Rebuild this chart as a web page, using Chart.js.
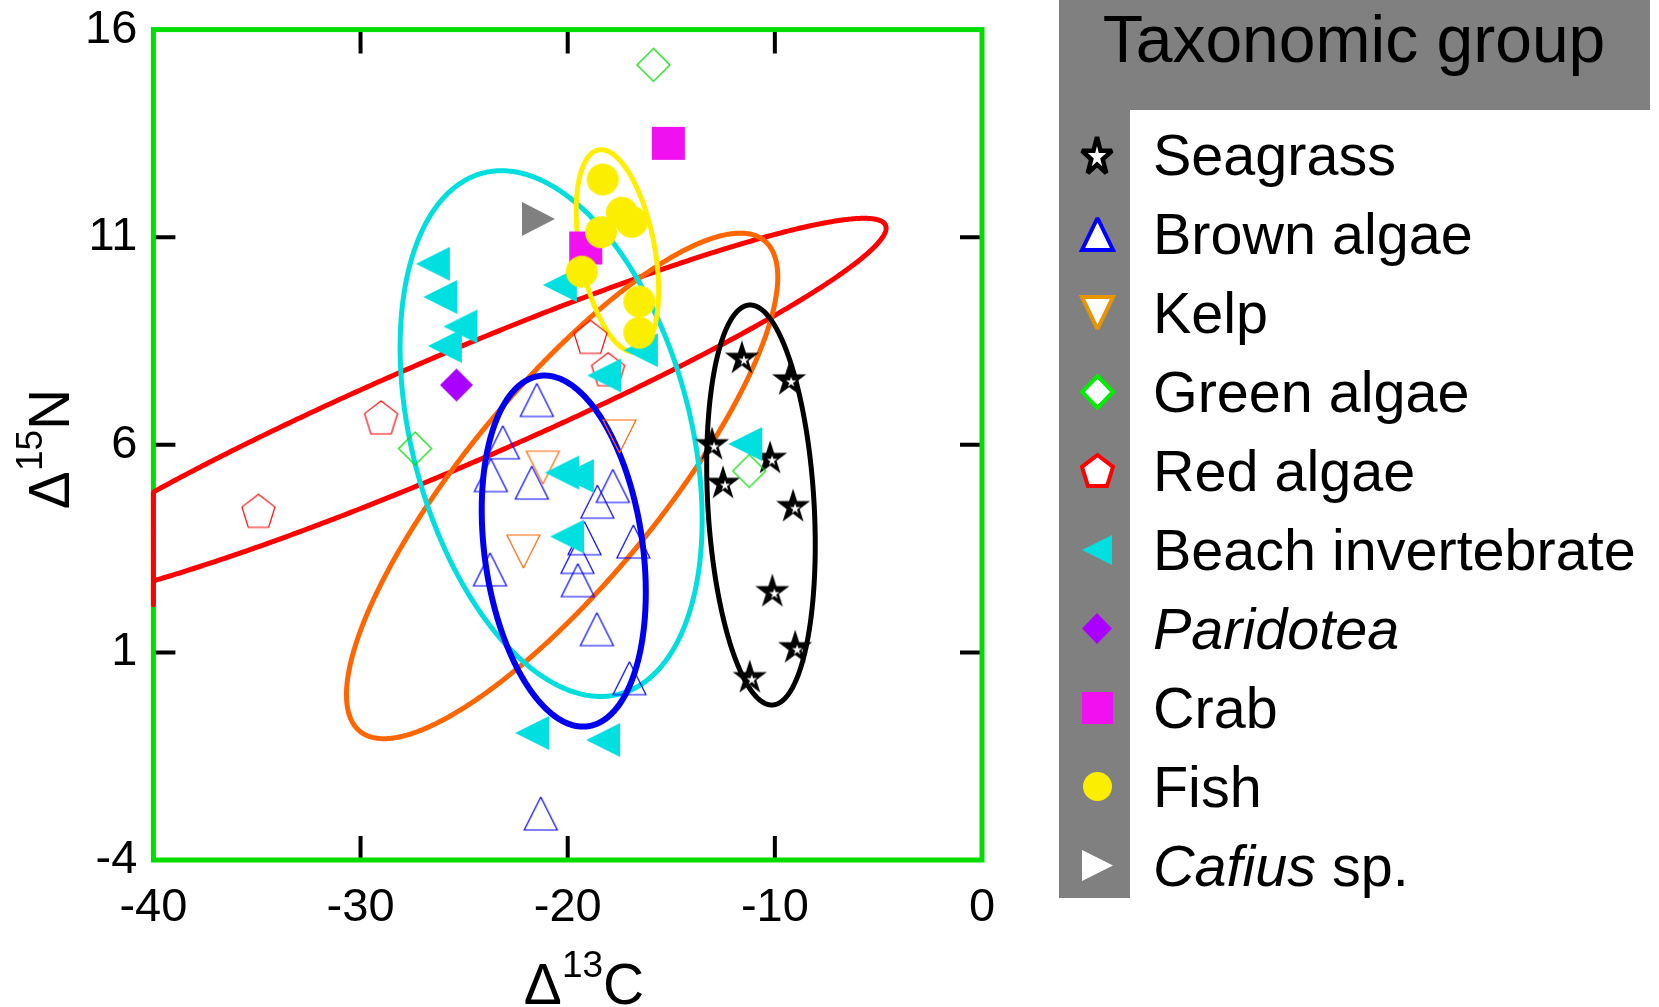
<!DOCTYPE html>
<html>
<head>
<meta charset="utf-8">
<script src="https://cdn.jsdelivr.net/npm/chart.js@4"></script>
<style>
  html, body { margin: 0; padding: 0; background: #fff; }
</style>
</head>
<body>
<canvas id="sia" width="1659" height="1007"></canvas>
<script>
const FONT = "'Liberation Sans', Arial, sans-serif";

// axis ticks
const xTicks = [-40, -30, -20, -10, 0];
const yTicks = [-4, 1, 6, 11, 16];

// groups (legend order)
const groups = ['Seagrass', 'Brown algae', 'Kelp', 'Green algae', 'Red algae',
  'Beach invertebrate', 'Paridotea', 'Crab', 'Fish', 'Cafius sp.'];
const italicPart = { 'Paridotea': 'Paridotea', 'Cafius sp.': 'Cafius' };
const legendTitle = 'Taxonomic group';

// delta 13C / delta 15N values
const seagrassX = [-11.59, -9.31, -13.03, -10.23, -12.50, -9.12, -10.12, -9.02, -11.21];
const seagrassY = [8.12, 7.60, 6.04, 5.71, 5.11, 4.55, 2.50, 1.15, 0.43];
const brownX = [-21.49, -23.13, -23.71, -21.73, -17.82, -18.57, -16.83, -19.19, -19.53, -19.51, -23.75, -18.59, -17.02, -21.30];
const brownY = [7.08, 6.06, 5.27, 5.09, 5.01, 4.63, 3.67, 3.75, 3.30, 2.74, 3.00, 1.56, 0.38, -2.88];
const kelpX = [-17.50, -21.20, -22.14];
const kelpY = [6.20, 5.45, 3.43];
const greenX = [-15.86, -27.37, -11.24];
const greenY = [15.15, 5.91, 5.37];
const redX = [-29.01, -34.93, -18.90, -18.05];
const redY = [6.66, 4.41, 8.60, 7.82];
const beachX = [-26.51, -26.15, -25.18, -25.93, -20.38, -16.47, -18.24, -20.28, -19.56, -20.03, -21.72, -18.29, -11.43];
const beachY = [10.36, 9.56, 8.85, 8.38, 9.85, 8.28, 7.67, 5.33, 5.25, 3.79, -0.94, -1.11, 6.02];
const paridoteaX = [-25.37];
const paridoteaY = [7.44];
const crabX = [-15.14, -19.13];
const crabY = [13.26, 10.74];
const fishX = [-18.31, -17.39, -16.91, -18.39, -19.32, -16.54, -16.54];
const fishY = [12.39, 11.59, 11.37, 11.12, 10.17, 9.45, 8.70];
const cafiusX = [-21.41];
const cafiusY = [11.44];

// ellipses: centre x, centre y, half-diameter to x-extreme (dx, dy), half vertical chord (dx, dy)
const seagrassEllipse = [-10.67, 4.55, 2.62, -0.96, 0, 4.72];
const brownEllipse = [-20.19, 3.44, 3.96, -0.99, 0, 4.11];
const kelpEllipse = [-20.27, 5.01, 10.41, 5.03, 0, 3.43];
const redEllipse = [-25.68, 6.80, 21.05, 4.42, 0, 1.46];
const beachEllipse = [-20.80, 6.27, 7.29, -2.08, 0, 5.98];
const fishEllipse = [-17.60, 10.67, 1.99, -0.96, 0, 2.24];

function pts(xs, ys) {
  return xs.map((v, i) => ({ x: v, y: ys[i] }));
}

function starPath(g, w, h, ox, oy) {
  for (let i = 0; i < 10; i++) {
    const a = -Math.PI / 2 + i * Math.PI / 5;
    const r = i % 2 ? 0.382 : 1;
    const px = ox + (r * Math.cos(a) + 0.951) / 1.902 * w;
    const py = oy + (r * Math.sin(a) + 1) / 1.809 * h;
    i ? g.lineTo(px, py) : g.moveTo(px, py);
  }
  g.closePath();
}

// marker images
function marker(shape, w, h, fill, stroke, lw) {
  const pad = Math.ceil(lw || 0) + 2;
  const c = document.createElement('canvas');
  c.width = w + pad * 2;
  c.height = h + pad * 2;
  const g = c.getContext('2d');
  g.translate(pad, pad);
  g.beginPath();
  const cx = w / 2, cy = h / 2;
  if (shape === 'up') { g.moveTo(cx, 0); g.lineTo(w, h); g.lineTo(0, h); }
  else if (shape === 'down') { g.moveTo(0, 0); g.lineTo(w, 0); g.lineTo(cx, h); }
  else if (shape === 'left') { g.moveTo(0, cy); g.lineTo(w, 0); g.lineTo(w, h); }
  else if (shape === 'right') { g.moveTo(0, 0); g.lineTo(w, cy); g.lineTo(0, h); }
  else if (shape === 'diamond') { g.moveTo(cx, 0); g.lineTo(w, cy); g.lineTo(cx, h); g.lineTo(0, cy); }
  else if (shape === 'square') { g.rect(0, 0, w, h); }
  else if (shape === 'circle') { g.ellipse(cx, cy, w / 2, h / 2, 0, 0, Math.PI * 2); }
  else if (shape === 'star') { starPath(g, w, h, 0, 0); }
  else {
    for (let i = 0; i < 5; i++) {
      const a = -Math.PI / 2 + i * Math.PI * 2 / 5;
      const px = (Math.cos(a) + 0.951) / 1.902 * w;
      const py = (Math.sin(a) + 1) / 1.809 * h;
      i ? g.lineTo(px, py) : g.moveTo(px, py);
    }
  }
  g.closePath();
  if (fill) { g.fillStyle = fill; g.fill(); }
  if (stroke) {
    g.lineJoin = 'miter';
    g.miterLimit = 2;
    g.strokeStyle = stroke;
    g.lineWidth = lw;
    g.stroke();
  }
  return c;
}

// solid black star with a small white core, as in the plot
function seagrassStar(w, h) {
  const c = marker('star', w, h, '#000');
  const g = c.getContext('2d');
  const pad = 2, k = 0.3;
  const ccx = pad + w / 2, ccy = pad + h / 1.809;
  g.beginPath();
  starPath(g, w * k, h * k, ccx - w * k / 2, ccy - h * k / 1.809);
  g.fillStyle = '#fff';
  g.fill();
  return c;
}

const plotMarkers = [
  seagrassStar(34, 33),
  marker('up', 33, 33, null, '#0000ff', 1.2),
  marker('down', 33, 33, null, '#ff6600', 1.2),
  marker('diamond', 33, 33, null, '#00dd00', 1.2),
  marker('pentagon', 33, 33, null, '#ff0000', 1.2),
  marker('left', 34, 34, '#00e0e0'),
  marker('diamond', 33, 33, '#aa00ff'),
  marker('square', 33, 33, '#f010f0'),
  marker('circle', 32, 32, '#fbee00'),
  marker('right', 33, 34, '#808080')
];
const legendMarkers = [
  marker('star', 30, 36, '#fff', '#000', 4.5),
  marker('up', 31, 32, '#fff', '#0000ff', 4),
  marker('down', 31, 32, '#fff', '#e69500', 4),
  marker('diamond', 31, 32, '#fff', '#00ee00', 4),
  marker('pentagon', 31, 31, '#fff', '#ff0000', 4),
  marker('left', 30, 30, '#00e0e0'),
  marker('diamond', 30, 31, '#aa00ff'),
  marker('square', 31, 32, '#f010f0'),
  marker('circle', 29, 29, '#fbee00'),
  marker('right', 31, 31, '#ffffff')
];

const seriesData = [
  pts(seagrassX, seagrassY), pts(brownX, brownY), pts(kelpX, kelpY), pts(greenX, greenY),
  pts(redX, redY), pts(beachX, beachY), pts(paridoteaX, paridoteaY), pts(crabX, crabY),
  pts(fishX, fishY), pts(cafiusX, cafiusY)
];
// higher = drawn earlier (underneath)
const drawOrder = [10, 9, 8, 7, 6, 3, 5, 4, 1, 2];

const ellipses = [
  { p: redEllipse, color: '#ff0000', width: 5 },
  { p: kelpEllipse, color: '#ff6600', width: 5 },
  { p: beachEllipse, color: '#00dede', width: 5 },
  { p: brownEllipse, color: '#0000ee', width: 6 },
  { p: seagrassEllipse, color: '#000000', width: 5 },
  { p: fishEllipse, color: '#ffee00', width: 5 }
];

const frameAndEllipses = {
  id: 'frameAndEllipses',
  beforeDatasetsDraw(chart) {
    const { ctx, chartArea: a, scales: { x, y } } = chart;
    ctx.save();
    // inward tick marks on all four sides
    ctx.strokeStyle = '#000';
    ctx.lineWidth = 4;
    ctx.beginPath();
    xTicks.slice(1, -1).forEach(v => {
      const px = x.getPixelForValue(v);
      ctx.moveTo(px, a.top); ctx.lineTo(px, a.top + 24);
      ctx.moveTo(px, a.bottom); ctx.lineTo(px, a.bottom - 24);
    });
    yTicks.slice(1, -1).forEach(v => {
      const py = y.getPixelForValue(v);
      ctx.moveTo(a.left, py); ctx.lineTo(a.left + 22, py);
      ctx.moveTo(a.right, py); ctx.lineTo(a.right - 22, py);
    });
    ctx.stroke();
    ctx.strokeStyle = '#00dd00';
    ctx.lineWidth = 5;
    ctx.strokeRect(a.left, a.top, a.right - a.left, a.bottom - a.top);

    // ellipses, clamped to the axes range
    ellipses.forEach(e => {
      const [cx, cy, ux, uy, vx, vy] = e.p;
      ctx.beginPath();
      for (let k = 0; k <= 720; k++) {
        const t = k * Math.PI / 360;
        let dx = cx + ux * Math.cos(t) + vx * Math.sin(t);
        let dy = cy + uy * Math.cos(t) + vy * Math.sin(t);
        dx = Math.min(Math.max(dx, x.min), x.max);
        dy = Math.min(Math.max(dy, y.min), y.max);
        const px = x.getPixelForValue(dx), py = y.getPixelForValue(dy);
        k ? ctx.lineTo(px, py) : ctx.moveTo(px, py);
      }
      ctx.closePath();
      ctx.strokeStyle = e.color;
      ctx.lineWidth = e.width;
      ctx.lineJoin = 'round';
      ctx.stroke();
    });
    ctx.restore();
  }
};

function supText(ctx, main1, sup, main2, big, small, rise) {
  ctx.font = big + 'px ' + FONT;
  const w1 = ctx.measureText(main1).width, w3 = ctx.measureText(main2).width;
  ctx.font = small + 'px ' + FONT;
  const w2 = ctx.measureText(sup).width;
  let x0 = -(w1 + w2 + w3) / 2;
  ctx.textAlign = 'left';
  ctx.textBaseline = 'alphabetic';
  ctx.fillStyle = '#000';
  ctx.font = big + 'px ' + FONT;
  ctx.fillText(main1, x0, 0);
  ctx.font = small + 'px ' + FONT;
  ctx.fillText(sup, x0 + w1, -rise);
  ctx.font = big + 'px ' + FONT;
  ctx.fillText(main2, x0 + w1 + w2, 0);
}

const titlesAndLegend = {
  id: 'titlesAndLegend',
  afterDraw(chart) {
    const ctx = chart.ctx;
    ctx.save();
    // axis titles
    ctx.save();
    ctx.translate(584, 1004);
    supText(ctx, '\u0394', '13', 'C', 57, 37, 27);
    ctx.restore();
    ctx.save();
    ctx.translate(68.5, 449);
    ctx.rotate(-Math.PI / 2);
    supText(ctx, '\u0394', '15', 'N', 57, 37, 27);
    ctx.restore();

    // legend panel
    ctx.fillStyle = '#808080';
    ctx.fillRect(1059, 0, 591, 110);
    ctx.fillRect(1059, 0, 71, 898);
    ctx.fillStyle = '#000';
    ctx.textAlign = 'center';
    ctx.textBaseline = 'alphabetic';
    ctx.font = '66px ' + FONT;
    ctx.fillText(legendTitle, 1354, 62);
    ctx.textAlign = 'left';
    groups.forEach((name, i) => {
      const cy = 154.5 + i * 79;
      const m = legendMarkers[i];
      ctx.drawImage(m, Math.round(1097 - m.width / 2), Math.round(cy - m.height / 2));
      const it = italicPart[name] || '';
      let tx = 1153;
      if (it) {
        ctx.font = 'italic 57.5px ' + FONT;
        ctx.fillText(it, tx, cy + 20.5);
        tx += ctx.measureText(it).width;
      }
      const rest = name.slice(it.length);
      if (rest) {
        ctx.font = '57.5px ' + FONT;
        ctx.fillText(rest, tx, cy + 20.5);
      }
    });
    ctx.restore();
  }
};

new Chart(document.getElementById('sia'), {
  type: 'scatter',
  data: {
    datasets: groups.map((g, i) => ({
      label: g,
      data: seriesData[i],
      pointStyle: plotMarkers[i],
      pointRadius: 16,
      order: drawOrder[i],
      showLine: false
    }))
  },
  options: {
    responsive: false,
    devicePixelRatio: 1,
    animation: false,
    layout: { padding: { left: 0, top: 29.6, right: 677, bottom: 0 } },
    plugins: {
      legend: { display: false },
      tooltip: { enabled: false }
    },
    scales: {
      x: {
        type: 'linear', position: 'bottom', min: -40, max: 0,
        grid: { display: false, drawTicks: false },
        border: { display: false },
        ticks: { color: '#000', font: { family: FONT, size: 47 }, padding: 20, maxRotation: 0, autoSkip: false },
        afterBuildTicks: s => { s.ticks = xTicks.map(v => ({ value: v })); },
        afterFit: s => { s.height = 147; s.paddingLeft = 0; s.paddingRight = 0; }
      },
      y: {
        type: 'linear', position: 'left', min: -4, max: 16,
        grid: { display: false, drawTicks: false },
        border: { display: false },
        ticks: { color: '#000', font: { family: FONT, size: 47 }, padding: 16, autoSkip: false },
        afterBuildTicks: s => { s.ticks = yTicks.map(v => ({ value: v })); },
        afterFit: s => { s.width = 153.4; s.paddingTop = 0; s.paddingBottom = 0; }
      }
    }
  },
  plugins: [frameAndEllipses, titlesAndLegend]
});
</script>
</body>
</html>
